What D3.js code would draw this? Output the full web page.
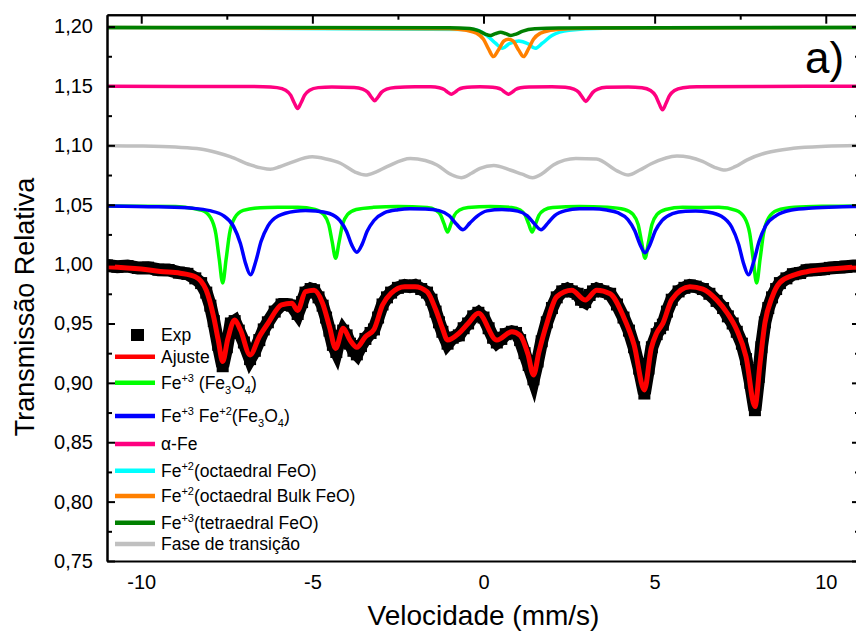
<!DOCTYPE html>
<html lang="pt">
<head>
<meta charset="utf-8">
<title>Espectro Mössbauer</title>
<script src="https://d3js.org/d3.v7.min.js"></script>
<style>
  body { margin: 0; overflow: hidden; background: #fff; }
  svg { font-family: "Liberation Sans", Arial, sans-serif; }
  .axis path, .axis line { stroke: #000; stroke-width: 2; fill: none; }
  .axis text { font-size: 20px; fill: #000; }
  .legend text { font-size: 17.5px; fill: #000; }
</style>
</head>
<body>
<div id="chart"></div>
<script>
// ---- data (velocity mm/s, relative transmission) ----
var xTicks = [-10, -5, 0, 5, 10];
var xMinorTicks = [-7.5, -2.5, 2.5, 7.5];
var yTicks = [0.75, 0.80, 0.85, 0.90, 0.95, 1.00, 1.05, 1.10, 1.15, 1.20];
var yMinorTicks = [0.775, 0.825, 0.875, 0.925, 0.975, 1.025, 1.075, 1.125, 1.175];

var expData = [[-11,0.9988],[-10.7,0.9978],[-10.4,0.9983],[-10.1,0.9968],[-9.8,0.997],[-9.5,0.9953],[-9.2,0.995],
  [-8.9,0.9928],[-8.65,0.9918],[-8.42,0.988],[-8.25,0.984],[-8.1,0.976],[-7.98,0.965],[-7.88,0.952],[-7.75,0.932],
  [-7.62,0.914],[-7.5,0.93],[-7.38,0.95],[-7.27,0.952],[-7.15,0.944],[-7,0.934],[-6.82,0.92],[-6.68,0.927],
  [-6.55,0.936],[-6.42,0.945],[-6.3,0.951],[-6.1,0.96],[-5.9,0.966],[-5.75,0.966],[-5.6,0.965],[-5.43,0.958],
  [-5.3,0.968],[-5.2,0.976],[-5.05,0.979],[-4.95,0.978],[-4.82,0.972],[-4.7,0.965],[-4.6,0.955],[-4.5,0.944],
  [-4.4,0.932],[-4.3,0.926],[-4.2,0.937],[-4.1,0.944],[-4,0.94],[-3.9,0.933],[-3.8,0.927],[-3.7,0.924],
  [-3.58,0.931],[-3.45,0.937],[-3.3,0.942],[-3.2,0.945],[-3.08,0.955],[-2.95,0.966],[-2.82,0.972],[-2.7,0.976],
  [-2.5,0.98],[-2.3,0.982],[-2.15,0.981],[-2,0.982],[-1.82,0.979],[-1.65,0.976],[-1.52,0.97],[-1.4,0.96],
  [-1.3,0.951],[-1.2,0.943],[-1.05,0.933],[-0.9,0.938],[-0.72,0.94],[-0.58,0.946],[-0.45,0.95],[-0.3,0.956],
  [-0.15,0.959],[0,0.955],[0.15,0.946],[0.28,0.938],[0.39,0.934],[0.52,0.937],[0.65,0.941],[0.83,0.943],
  [0.95,0.942],[1.07,0.936],[1.2,0.925],[1.32,0.915],[1.46,0.903],[1.58,0.918],[1.7,0.935],[1.85,0.951],
  [2,0.963],[2.14,0.972],[2.3,0.977],[2.45,0.979],[2.58,0.977],[2.75,0.975],[2.85,0.97],[2.97,0.968],
  [3.1,0.974],[3.2,0.977],[3.31,0.979],[3.5,0.977],[3.7,0.975],[3.9,0.966],[4.09,0.955],[4.25,0.944],
  [4.4,0.93],[4.55,0.912],[4.7,0.891],[4.82,0.912],[4.92,0.93],[5.06,0.941],[5.16,0.946],[5.24,0.949],
  [5.36,0.96],[5.5,0.97],[5.7,0.977],[5.87,0.98],[6.03,0.982],[6.2,0.981],[6.41,0.979],[6.6,0.975],
  [6.81,0.969],[7,0.963],[7.14,0.956],[7.28,0.95],[7.4,0.943],[7.55,0.933],[7.67,0.92],[7.8,0.9],
  [7.93,0.877],[8.04,0.905],[8.12,0.93],[8.22,0.951],[8.32,0.963],[8.43,0.972],[8.55,0.979],[8.66,0.984],
  [8.85,0.988],[9.04,0.9915],[9.25,0.9925],[9.44,0.9948],[9.7,0.9953],[9.95,0.9958],[10.12,0.9968],
  [10.4,0.9973],[10.6,0.9978],[10.8,0.9983],[11,0.9983]];

var ajuste = [[-11,0.9978],[-10,0.9958],[-9.44,0.9938],[-8.86,0.9923],[-8.42,0.9894],[-8.1,0.978],[-7.88,0.955],
  [-7.75,0.936],[-7.62,0.918],[-7.47,0.937],[-7.27,0.953],[-7.1,0.9445],[-6.82,0.9235],[-6.55,0.9389],[-6.3,0.95],
  [-5.9,0.9656],[-5.6,0.967],[-5.43,0.961],[-5.2,0.9768],[-4.95,0.978],[-4.7,0.967],[-4.5,0.9473],[-4.32,0.929],
  [-4.1,0.946],[-3.9,0.936],[-3.7,0.93],[-3.45,0.9389],[-3.2,0.945],[-2.95,0.9656],[-2.7,0.9754],[-2.3,0.981],
  [-2,0.981],[-1.65,0.9768],[-1.4,0.962],[-1.2,0.946],[-1.05,0.936],[-0.72,0.9417],[-0.45,0.95],[-0.15,0.9586],
  [0.39,0.936],[0.83,0.9431],[1.07,0.94],[1.3,0.924],[1.46,0.9066],[1.62,0.926],[1.85,0.95],[2.14,0.9725],
  [2.58,0.978],[2.97,0.9698],[3.31,0.978],[3.7,0.975],[4.09,0.9557],[4.4,0.932],[4.7,0.894],[4.9,0.929],
  [5.06,0.942],[5.24,0.95],[5.5,0.97],[6.03,0.981],[6.41,0.979],[6.81,0.97],[7.14,0.958],[7.4,0.9445],
  [7.67,0.922],[7.93,0.88],[8.08,0.9167],[8.22,0.95],[8.43,0.972],[8.66,0.9845],[9.04,0.9905],[9.44,0.9936],
  [10.12,0.9958],[10.8,0.9973],[11,0.9975]];

var fe3Fe3O4 = [[-11,1.049],[-9,1.0485],[-8.72,1.0478],[-8.22,1.0452],[-7.97,1.0389],[-7.82,1.0256],[-7.72,1.004],
  [-7.62,0.984],[-7.52,1.004],[-7.42,1.0256],[-7.27,1.0389],[-7.02,1.0452],[-6.52,1.0475],[-5.9,1.0478],
  [-5.42,1.0479],[-4.92,1.046],[-4.67,1.0418],[-4.52,1.0332],[-4.42,1.0186],[-4.32,1.005],[-4.22,1.0186],
  [-4.12,1.0332],[-3.97,1.0418],[-3.72,1.046],[-3.22,1.0478],[-2.5,1.0485],[-1.65,1.0477],[-1.4,1.0456],
  [-1.25,1.0411],[-1.15,1.0338],[-1.05,1.027],[-0.95,1.0338],[-0.85,1.0411],[-0.7,1.0456],[-0.45,1.0477],
  [0.2,1.0485],[0.82,1.0477],[1.07,1.0456],[1.22,1.0411],[1.32,1.0338],[1.42,1.027],[1.52,1.0338],[1.62,1.0411],
  [1.77,1.0456],[2.02,1.0477],[2.8,1.0485],[3.62,1.0478],[4.12,1.046],[4.37,1.0418],[4.52,1.0332],[4.62,1.0186],
  [4.72,1.005],[4.82,1.0186],[4.92,1.0332],[5.07,1.0418],[5.32,1.046],[5.82,1.0478],[6.3,1.0477],[6.88,1.0478],
  [7.38,1.0452],[7.63,1.0389],[7.78,1.0256],[7.88,1.004],[7.98,0.984],[8.08,1.004],[8.18,1.0256],[8.33,1.0389],
  [8.58,1.0452],[9.08,1.0478],[10,1.0487],[11,1.049]];

var fe3Fe2Fe3O4 = [[-11,1.049],[-9.5,1.0482],[-8.5,1.047],[-8,1.045],[-7.6,1.0408],[-7.3,1.0316],[-7.1,1.0172],
  [-6.95,1.0004],[-6.81,0.991],[-6.65,1.0026],[-6.5,1.019],[-6.3,1.032],[-6,1.0405],[-5.5,1.0445],[-5.2,1.0451],
  [-4.9,1.0448],[-4.5,1.0426],[-4.2,1.0368],[-4,1.0275],[-3.85,1.0162],[-3.7,1.01],[-3.55,1.0164],[-3.4,1.0276],
  [-3.2,1.0367],[-2.9,1.0432],[-2.5,1.0458],[-2.15,1.0466],[-1.7,1.0464],[-1.3,1.045],[-1,1.0407],[-0.8,1.034],
  [-0.6,1.029],[-0.4,1.0345],[-0.2,1.04],[0.1,1.0448],[0.54,1.046],[1,1.0446],[1.28,1.0406],[1.48,1.0342],
  [1.68,1.029],[1.88,1.0345],[2.08,1.0408],[2.4,1.045],[2.8,1.0465],[3.2,1.0466],[3.6,1.0455],[3.92,1.0433],
  [4.22,1.0375],[4.42,1.0281],[4.57,1.0168],[4.72,1.0096],[4.87,1.0168],[5.02,1.028],[5.22,1.0368],[5.52,1.0424],
  [5.9,1.0446],[6.2,1.0448],[6.55,1.0439],[6.95,1.0403],[7.25,1.0312],[7.45,1.017],[7.6,1.0004],[7.74,0.991],
  [7.9,1.0026],[8.05,1.019],[8.25,1.0326],[8.55,1.0408],[9,1.0455],[9.6,1.0473],[10.5,1.0482],[11,1.0485]];

var alphaFe = [[-11,1.1497],[-7,1.1495],[-6.43,1.1494],[-6.03,1.1486],[-5.78,1.1464],[-5.63,1.142],[-5.53,1.1359],
  [-5.43,1.131],[-5.33,1.1359],[-5.23,1.142],[-5.08,1.1464],[-4.83,1.1486],[-4.43,1.1492],[-3.78,1.1488],
  [-3.53,1.1474],[-3.38,1.1447],[-3.28,1.1407],[-3.18,1.1376],[-3.08,1.1407],[-2.98,1.1447],[-2.83,1.1474],
  [-2.58,1.1488],[-2,1.1494],[-1.54,1.1493],[-1.29,1.1485],[-1.14,1.1469],[-1.04,1.1446],[-0.94,1.143],
  [-0.84,1.1446],[-0.74,1.1469],[-0.59,1.1485],[-0.34,1.1492],[-0.1,1.1493],[0.13,1.1492],[0.38,1.1485],
  [0.53,1.1469],[0.63,1.1446],[0.73,1.143],[0.83,1.1446],[0.93,1.1469],[1.08,1.1485],[1.33,1.1492],[2,1.1494],
  [2.39,1.1489],[2.64,1.1474],[2.79,1.1445],[2.89,1.1404],[2.99,1.137],[3.09,1.1404],[3.19,1.1445],[3.34,1.1474],
  [3.59,1.1489],[4.23,1.1492],[4.63,1.1485],[4.88,1.1462],[5.03,1.1416],[5.13,1.1352],[5.23,1.13],[5.33,1.1352],
  [5.43,1.1416],[5.58,1.1462],[5.83,1.1485],[6.23,1.1494],[8,1.1496],[11,1.1497]];

var fe2OctFeO = [[-11,1.1992],[-0.3,1.1975],[0.1,1.1925],[0.35,1.186],[0.55,1.1817],[0.75,1.1855],[1.03,1.1878],
  [1.3,1.1855],[1.51,1.1817],[1.72,1.186],[2,1.1925],[2.5,1.1968],[3.5,1.1985],[11,1.1992]];

var fe2OctBulkFeO = [[-11,1.1992],[-1,1.1981],[-0.5,1.1969],[-0.2,1.1944],[0,1.1894],[0.15,1.181],[0.29,1.1747],
  [0.43,1.18],[0.6,1.1879],[0.73,1.1894],[0.86,1.1879],[1.03,1.18],[1.17,1.1747],[1.31,1.181],[1.46,1.1894],
  [1.66,1.1944],[1.96,1.1969],[2.46,1.1981],[3.5,1.1989],[11,1.1992]];

var fe3TetFeO = [[-11,1.1992],[-1,1.1991],[-0.4,1.1983],[-0.15,1.1965],[0.05,1.1937],[0.2,1.1925],[0.35,1.194],
  [0.5,1.1953],[0.65,1.194],[0.8,1.1925],[0.95,1.1937],[1.15,1.1962],[1.5,1.1981],[2.2,1.1989],[11,1.1992]];

var faseTransicao = [[-11,1.0997],[-10,1.0994],[-9,1.0985],[-8.27,1.097],[-7.8,1.094],[-7.4,1.0905],[-6.81,1.0835],
  [-6.5,1.081],[-6.23,1.0798],[-5.95,1.082],[-5.65,1.0852],[-5,1.0903],[-4.6,1.0885],[-4.18,1.0849],[-3.75,1.0775],
  [-3.45,1.075],[-3.15,1.0775],[-2.82,1.082],[-2.14,1.089],[-1.7,1.0872],[-1.36,1.0835],[-0.95,1.0755],
  [-0.65,1.0728],[-0.35,1.0765],[-0.1,1.0807],[0.3,1.083],[0.78,1.0792],[1.13,1.0757],[1.43,1.0728],[1.73,1.0765],
  [2.04,1.0835],[2.7,1.089],[3.3,1.0885],[3.9,1.0785],[4.23,1.075],[4.55,1.079],[4.9,1.0845],[5.65,1.091],
  [6.4,1.0865],[6.75,1.0815],[7.06,1.0792],[7.35,1.082],[7.69,1.0876],[8.27,1.0938],[9.05,1.0975],[10,1.0992],
  [11,1.0998]];

// legend labels: [text, "" | "sup" | "sub"]
var legendLabels = [
  [["Exp", ""]],
  [["Ajuste", ""]],
  [["Fe", ""], ["+3", "sup"], [" (Fe", ""], ["3", "sub"], ["O", ""], ["4", "sub"], [")", ""]],
  [["Fe", ""], ["+3", "sup"], [" Fe", ""], ["+2", "sup"], ["(Fe", ""], ["3", "sub"], ["O", ""], ["4", "sub"], [")", ""]],
  [["\u03b1-Fe", ""]],
  [["Fe", ""], ["+2", "sup"], ["(octaedral FeO)", ""]],
  [["Fe", ""], ["+2", "sup"], ["(octaedral Bulk FeO)", ""]],
  [["Fe", ""], ["+3", "sup"], ["(tetraedral FeO)", ""]],
  [["Fase de transi\u00e7\u00e3o", ""]]
];

// ---- layout ----
var width = 870, height = 633;
var plotLeft = 107, plotRight = 860, plotTop = 14.7, plotBottom = 561;

var svg = d3.select("#chart").append("svg")
  .attr("width", width)
  .attr("height", height);

var x = d3.scaleLinear().domain([-11, 11]).range([plotLeft, plotRight]);
var y = d3.scaleLinear().domain([0.75, 1.21]).range([plotBottom, plotTop]);

var commaFmt = function(d) { return d3.format(".2f")(d).replace(".", ","); };
var plainFmt = function(d) { return String(d); };

svg.append("defs").append("clipPath").attr("id", "plotclip")
  .append("rect")
  .attr("x", plotLeft).attr("y", plotTop)
  .attr("width", plotRight - plotLeft).attr("height", plotBottom - plotTop);

var line = d3.line()
  .x(function(d) { return x(d[0]); })
  .y(function(d) { return y(d[1]); })
  .curve(d3.curveMonotoneX);

var plot = svg.append("g").attr("clip-path", "url(#plotclip)");

function drawCurve(data, color, w) {
  plot.append("path")
    .datum(data)
    .attr("fill", "none")
    .attr("stroke", color)
    .attr("stroke-width", w)
    .attr("stroke-linejoin", "round")
    .attr("d", line);
}

// components
drawCurve(faseTransicao, "#c0c0c0", 3.5);
drawCurve(alphaFe, "#ff0080", 3.5);
drawCurve(fe3Fe3O4, "#00ff00", 3.5);
drawCurve(fe3Fe2Fe3O4, "#0000ff", 3.5);
drawCurve(fe2OctFeO, "#00ffff", 3.5);
drawCurve(fe2OctBulkFeO, "#ff8000", 3.5);
drawCurve(fe3TetFeO, "#008000", 3.5);

// experimental points (thick black band of squares)
var expLine = d3.line()
  .x(function(d) { return x(d[0]); })
  .y(function(d) { return y(d[1]); });
plot.append("path")
  .datum(expData)
  .attr("fill", "none")
  .attr("stroke", "#000")
  .attr("stroke-width", 13)
  .attr("d", expLine);
plot.append("g").selectAll("rect")
  .data(expData)
  .enter().append("rect")
  .attr("x", function(d) { return x(d[0]) - 6; })
  .attr("y", function(d) { return y(d[1]) - 6; })
  .attr("width", 12).attr("height", 12)
  .attr("fill", "#000");

// fit
drawCurve(ajuste, "#ff0000", 5);

// ---- axes (Origin style frame, inward ticks) ----
svg.append("g").attr("class", "axis")
  .attr("transform", "translate(" + plotLeft + ",0)")
  .call(d3.axisLeft(y).tickValues(yTicks).tickSize(-8).tickSizeOuter(0).tickPadding(14).tickFormat(commaFmt));
svg.append("g").attr("class", "axis")
  .attr("transform", "translate(" + plotLeft + ",0)")
  .call(d3.axisLeft(y).tickValues(yMinorTicks).tickSize(-5).tickSizeOuter(0).tickFormat(""));
svg.append("g").attr("class", "axis")
  .attr("transform", "translate(" + plotRight + ",0)")
  .call(d3.axisRight(y).tickValues(yTicks).tickSize(-8).tickSizeOuter(0).tickFormat(""));
svg.append("g").attr("class", "axis")
  .attr("transform", "translate(" + plotRight + ",0)")
  .call(d3.axisRight(y).tickValues(yMinorTicks).tickSize(-5).tickSizeOuter(0).tickFormat(""));
svg.append("g").attr("class", "axis")
  .attr("transform", "translate(0," + plotTop + ")")
  .call(d3.axisTop(x).tickValues(xTicks).tickSize(-9).tickSizeOuter(0).tickFormat(""));
svg.append("g").attr("class", "axis")
  .attr("transform", "translate(0," + plotTop + ")")
  .call(d3.axisTop(x).tickValues(xMinorTicks).tickSize(-5).tickSizeOuter(0).tickFormat(""));
svg.append("g").attr("class", "axis")
  .attr("transform", "translate(0," + plotBottom + ")")
  .call(d3.axisBottom(x).tickValues(xTicks).tickSize(0).tickSizeOuter(0).tickPadding(14).tickFormat(plainFmt));

// axis titles
svg.append("text")
  .attr("x", x(0))
  .attr("y", 625)
  .attr("text-anchor", "middle")
  .style("font-size", "28px")
  .text("Velocidade (mm/s)");
svg.append("text")
  .attr("transform", "translate(34," + 307 + ") rotate(-90)")
  .attr("text-anchor", "middle")
  .style("font-size", "27px")
  .text("Transmiss\u00e3o Relativa");

// panel label
svg.append("text")
  .attr("x", 805)
  .attr("y", 73)
  .style("font-size", "44px")
  .text("a)");

// ---- legend ----
var legendStyles = [
  {type: "square", color: "#000"},
  {type: "line", color: "#ff0000"},
  {type: "line", color: "#00ff00"},
  {type: "line", color: "#0000ff"},
  {type: "line", color: "#ff0080"},
  {type: "line", color: "#00ffff"},
  {type: "line", color: "#ff8000"},
  {type: "line", color: "#008000"},
  {type: "line", color: "#c0c0c0"}
];
var legendY = [335, 356.7, 382.7, 416, 444, 470.7, 496, 522.7, 544];

var legend = svg.append("g").attr("class", "legend");
legendLabels.forEach(function(parts, i) {
  var g = legend.append("g").attr("transform", "translate(0," + legendY[i] + ")");
  var st = legendStyles[i];
  if (st.type === "square") {
    g.append("rect").attr("x", 131).attr("y", -6).attr("width", 13).attr("height", 12).attr("fill", st.color);
  } else {
    g.append("line").attr("x1", 115).attr("x2", 155).attr("y1", 0).attr("y2", 0)
      .attr("stroke", st.color).attr("stroke-width", 4.5);
  }
  var t = g.append("text").attr("x", 161).attr("y", 6);
  var shift = 0;
  parts.forEach(function(p) {
    var target = p[1] === "sup" ? -7 : (p[1] === "sub" ? 5 : 0);
    var ts = t.append("tspan").attr("dy", target - shift).text(p[0]);
    if (p[1]) ts.style("font-size", "11px");
    shift = target;
  });
});
</script>
</body>
</html>
